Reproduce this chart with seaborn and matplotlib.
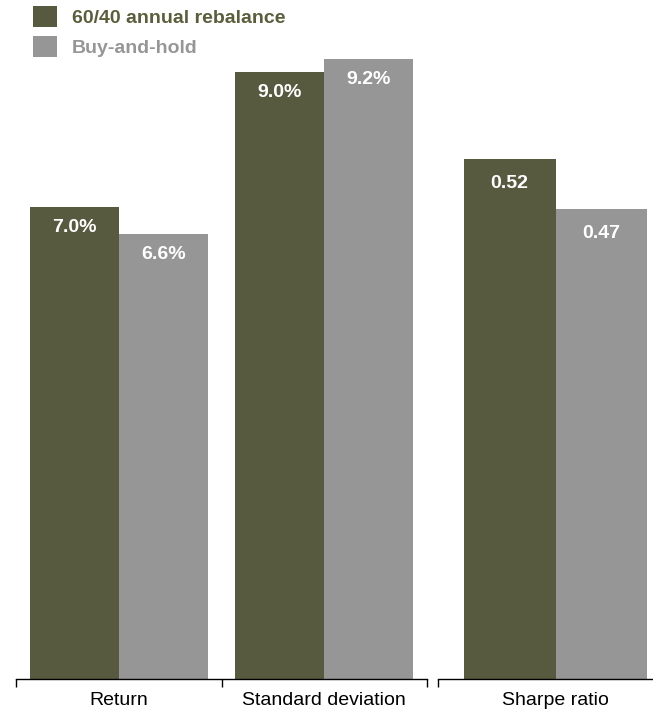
import matplotlib
matplotlib.use("Agg")
import matplotlib.pyplot as plt
import pandas as pd
import seaborn as sns

# values
series = ["60/40 annual rebalance", "Buy-and-hold"]
pct_metrics = ["Return", "Standard deviation"]
rebalance_pct = [7.0, 9.0]
buyhold_pct = [6.6, 9.2]
ratio_metric = ["Sharpe ratio"]
rebalance_sharpe = [0.52]
buyhold_sharpe = [0.47]

GREEN = "#5a5e3b"
GREY = "#969696"
palette = {series[0]: GREEN, series[1]: GREY}


def long_frame(metrics, first, second):
    return pd.DataFrame({
        "metric": metrics * 2,
        "strategy": [series[0]] * len(metrics) + [series[1]] * len(metrics),
        "value": list(first) + list(second),
    })


def label_bars(ax, fmt, drop):
    for container in ax.containers:
        for bar in container:
            ax.annotate(fmt.format(bar.get_height()),
                        (bar.get_x() + bar.get_width() / 2, bar.get_height()),
                        xytext=(0, -drop), textcoords="offset points",
                        ha="center", va="center", color="white",
                        fontsize=14, fontweight="bold")


def style_axis(ax, boundaries):
    for side in ("top", "left", "right"):
        ax.spines[side].set_visible(False)
    ax.spines["bottom"].set_linewidth(1.0)
    ax.spines["bottom"].set_color("black")
    ax.set_yticks([])
    ax.set_xlabel("")
    ax.set_ylabel("")
    ax.tick_params(axis="x", which="major", bottom=False, length=0, pad=9.5,
                   labelsize=14, labelcolor="black")
    ax.set_xticks(boundaries, minor=True)
    ax.tick_params(axis="x", which="minor", bottom=True, length=6, width=1.0,
                   direction="out", color="black")


sns.set_style("white")
plt.rcParams["font.family"] = ["Liberation Sans", "DejaVu Sans"]

fig = plt.figure(figsize=(6.53, 7.10), dpi=100)
W, H = 653, 710
base = 679
ax1 = fig.add_axes([16 / W, (H - base) / H, (427 - 16) / W, 674 / H])
ax2 = fig.add_axes([438 / W, (H - base) / H, (673 - 438) / W, 674 / H])

sns.barplot(data=long_frame(pct_metrics, rebalance_pct, buyhold_pct),
            x="metric", y="value", hue="strategy", hue_order=series,
            palette=palette, width=0.866, linewidth=0, ax=ax1)
sns.barplot(data=long_frame(ratio_metric, rebalance_sharpe, buyhold_sharpe),
            x="metric", y="value", hue="strategy", hue_order=series,
            palette=palette, width=0.78, linewidth=0, legend=False, ax=ax2)

ax1.set_xlim(-0.5, 1.5)
ax1.set_ylim(0, 10)
ax2.set_xlim(-0.5, 0.5)
ax2.set_ylim(0, 0.674)

label_bars(ax1, "{:.1f}%", 14.5)
label_bars(ax2, "{:.2f}", 17.5)
style_axis(ax1, [-0.5, 0.5, 1.5])
style_axis(ax2, [-0.5])

handles, labels = ax1.get_legend_handles_labels()
ax1.get_legend().remove()
leg = fig.legend(handles, labels, loc="upper left",
                 bbox_to_anchor=(33 / W, 1 - 6 / H), frameon=False,
                 fontsize=14, handlelength=1.25, handleheight=1.25,
                 labelspacing=0.47, handletextpad=0.75,
                 borderpad=0, borderaxespad=0)
for text, colour in zip(leg.get_texts(), [GREEN, GREY]):
    text.set_color(colour)
    text.set_fontweight("bold")

fig.savefig("out.png", dpi=100)
